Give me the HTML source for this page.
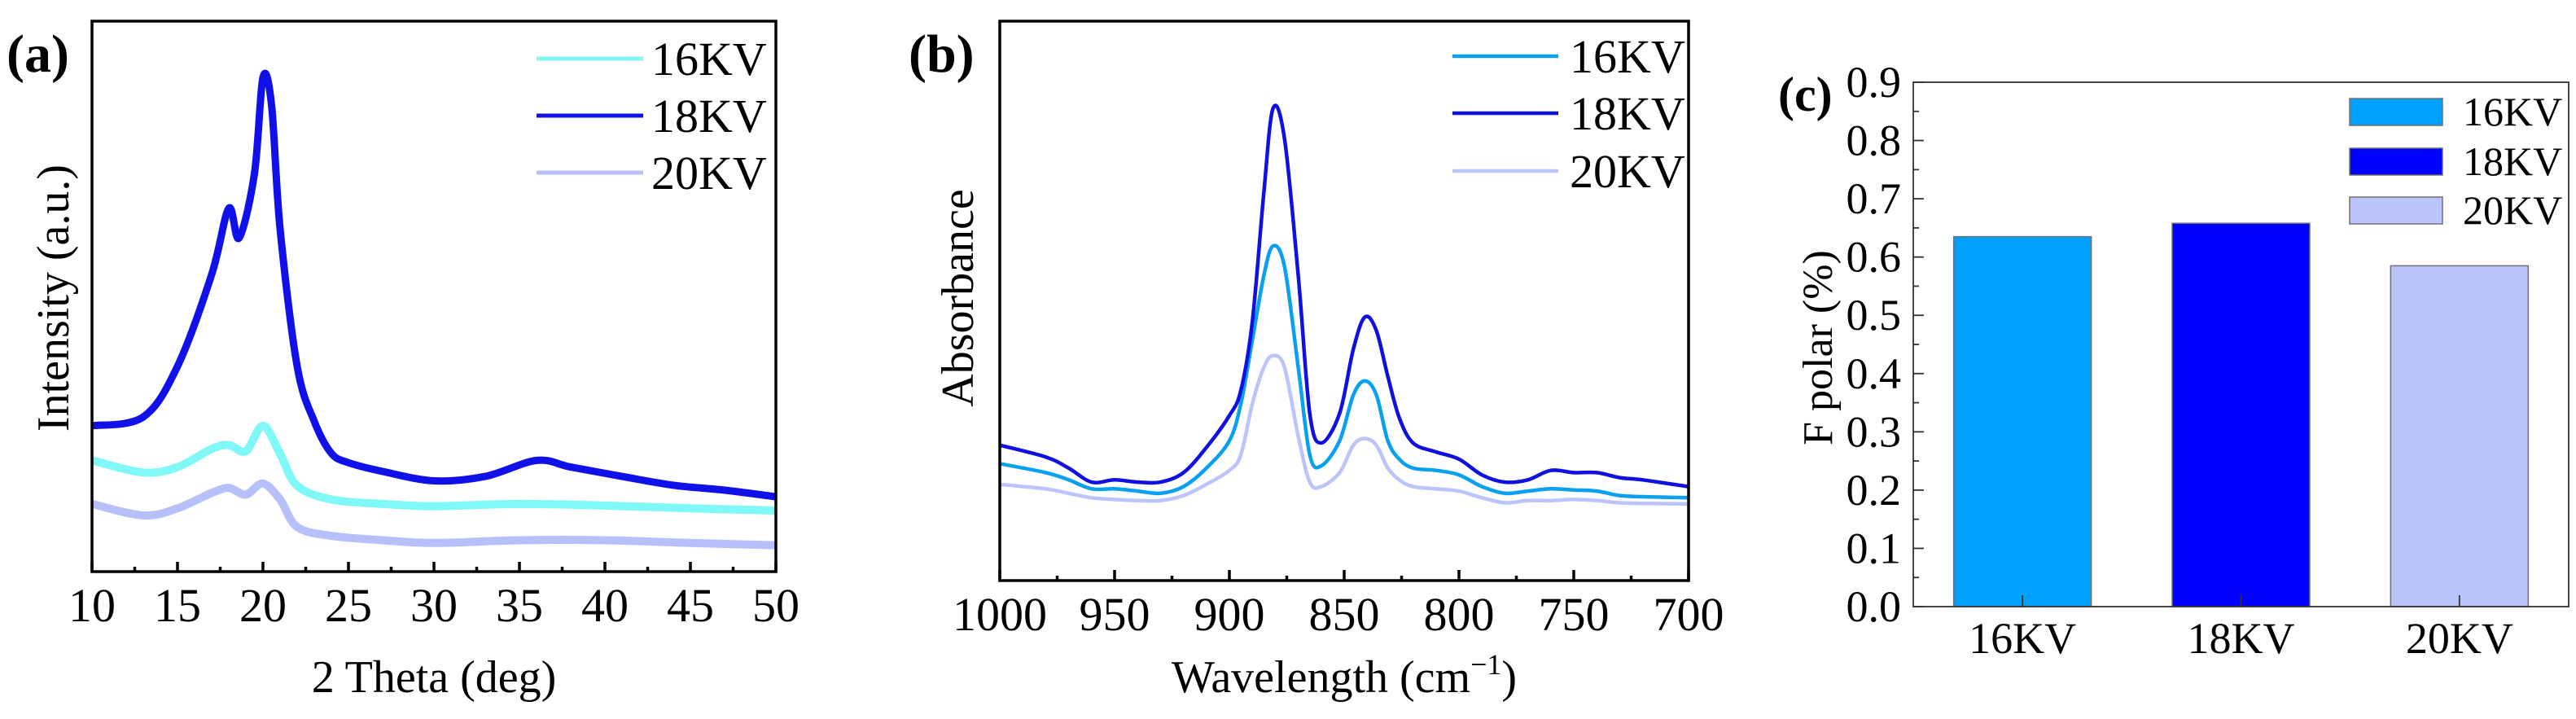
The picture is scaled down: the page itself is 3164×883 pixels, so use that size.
<!DOCTYPE html>
<html><head><meta charset="utf-8">
<style>
html,body{margin:0;padding:0;background:#fff;}
svg{display:block;}
svg text{font-family:"Liberation Serif","Times New Roman",serif;}
</style></head>
<body>
<svg id="fig" width="3164" height="883" viewBox="0 0 3164 883" xmlns="http://www.w3.org/2000/svg" font-family="Liberation Serif, serif"></svg>
<script>
// ---------- Panel (a) XRD data ----------
const xrdX = [10,13,15,17,18,18.6,19.5,20,20.5,21,22,23,24,25,27,30,33,36,38,41,44,47,50];
const xrd18 = [26.5,28.1,37.3,54,66,60.6,72.3,89.8,84.8,62.3,37.3,27.3,21.5,19.8,18.2,16.5,17.3,20.2,19,17.3,15.7,14.8,13.6];
const xrdX16 = [10,13,15,17,18,19,20,21,22,24,27,30,35,40,45,50];
const xrd16 = [20.2,18,19,22.3,23,21.9,26.5,21.4,15.6,13.1,12.3,11.9,12.3,12,11.5,11.1];
const xrd20 = [12.3,10.2,11.5,14.3,15.2,14,16,13.1,8.1,6.5,5.7,5.2,5.7,5.7,5.2,4.8];
const xrdTicks = [10,15,20,25,30,35,40,45,50];
// ---------- Panel (b) FTIR data ----------
const irX = [1000,980,970,960,950,940,930,920,910,900,895,890,885,881,876,870,865,860,852,846,841,836,831,826,820,810,800,790,780,770,760,750,740,730,720,700];
const ir18 = [24.2,22.1,20.1,17.6,18,17.6,17.6,19.3,23.8,29.5,34,46.3,69.3,84.4,79,54.5,29.9,24.6,29.9,41.4,47.1,44.7,36.5,29.1,24.6,23,21.7,18.9,17.6,18,19.7,19.3,19.3,18.4,18,16.8];
const ir16 = [20.9,19.3,18,16.4,16.4,16,15.6,16.8,20.1,25,31.6,43,54.5,59.8,56.1,38.1,22.5,20.5,25,33.2,35.7,33.2,25,21.7,20.1,19.7,18.9,16.8,15.6,16,16.4,16.2,16,15.2,15,14.8];
const ir20 = [17.2,16.4,15.6,14.8,14.5,14.3,14.3,15.2,17.2,19.7,22.5,31.6,38.1,40.2,38.1,25.8,17.6,16.8,19.3,24.2,25.4,24.2,20.1,18,16.8,16.4,16,14.8,13.9,14.3,14.3,14.5,14.3,13.9,13.8,13.7];
const irTicks = [1000,950,900,850,800,750,700];
// ---------- Panel (c) bar data ----------
const barCats = ["16KV","18KV","20KV"];
const barVals = [0.635,0.658,0.585];
const barTicks = ["0.0","0.1","0.2","0.3","0.4","0.5","0.6","0.7","0.8","0.9"];

const NS="http://www.w3.org/2000/svg";
const svg=document.getElementById('fig');
const FF='Liberation Serif, Times New Roman, serif';
function mk(tag,attrs,parent,text){const e=document.createElementNS(NS,tag);for(const k in attrs)e.setAttribute(k,attrs[k]);if(tag==='text')e.setAttribute('font-family',FF);if(text!==undefined)e.textContent=text;(parent||svg).appendChild(e);return e;}
function smooth(pts){let d='M'+pts[0][0].toFixed(1)+','+pts[0][1].toFixed(1);for(let i=0;i<pts.length-1;i++){const p0=pts[Math.max(0,i-1)],p1=pts[i],p2=pts[i+1],p3=pts[Math.min(pts.length-1,i+2)];const c1x=p1[0]+(p2[0]-p0[0])/6,c1y=p1[1]+(p2[1]-p0[1])/6,c2x=p2[0]-(p3[0]-p1[0])/6,c2y=p2[1]-(p3[1]-p1[1])/6;d+=' C'+c1x.toFixed(1)+','+c1y.toFixed(1)+' '+c2x.toFixed(1)+','+c2y.toFixed(1)+' '+p2[0].toFixed(1)+','+p2[1].toFixed(1);}return d;}

// ===== Panel A =====
const A={l:113,r:953,t:26,b:702};
const ax=v=>A.l+(v-10)/40*(A.r-A.l);
const ay=v=>A.b-v/100*(A.b-A.t);
const gA=mk('g',{});


function lineA(xs,ys,color,name,w){const p=mk('path',{d:smooth(xs.map((x,i)=>[ax(x),ay(ys[i])])),fill:'none',stroke:color,'stroke-width':w,'stroke-linejoin':'round'},gA);}
lineA(xrdX16,xrd20,'#b8c0fb','line-20kv',10);
lineA(xrdX16,xrd16,'#80f8f8','line-16kv',10);
lineA(xrdX,xrd18,'#1010e8','line-18kv',9);
const frA=mk('rect',{x:A.l,y:A.t,width:A.r-A.l,height:A.b-A.t,fill:'none',stroke:'#000','stroke-width':3.5},gA);

for(let v=10;v<=50;v+=2.5){const major=(v%5===0);const t=mk('line',{x1:ax(v),x2:ax(v),y1:A.b,y2:A.b-(major?12:6),stroke:'#000','stroke-width':3.5},gA);}
xrdTicks.forEach(v=>{const t=mk('text',{x:ax(v),y:763,'font-size':58,'text-anchor':'middle'},gA,String(v));});
let tt=mk('text',{x:533,y:850,'font-size':56,'text-anchor':'middle'},gA,'2 Theta (deg)');
tt=mk('text',{x:0,y:0,'font-size':56,'text-anchor':'middle',transform:'translate(84,366) rotate(-90)'},gA,'Intensity (a.u.)');
tt=mk('text',{x:8,y:88,'font-size':66,'font-weight':'bold'},gA,'(a)');
[['16KV','#80f8f8',72],['18KV','#1010e8',142],['20KV','#b8c0fb',212]].forEach(([n,c,y])=>{const g=mk('g',{},gA);mk('line',{x1:659,x2:790,y1:y,y2:y,stroke:c,'stroke-width':5},g);mk('text',{x:800,y:y+20,'font-size':58},g,n);});

// ===== Panel B =====
const B={l:1228,r:2074,t:26,b:713};
const bx=v=>B.l+(1000-v)/300*(B.r-B.l);
const by=v=>B.b-v/100*(B.b-B.t);
const gB=mk('g',{});


function lineB(ys,color,name){const p=mk('path',{d:smooth(irX.map((x,i)=>[bx(x),by(ys[i])])),fill:'none',stroke:color,'stroke-width':4.5,'stroke-linejoin':'round'},gB);}
lineB(ir20,'#bcc4fb','line-20kv');
lineB(ir16,'#0aa0f0','line-16kv');
lineB(ir18,'#1010e0','line-18kv');
const frB=mk('rect',{x:B.l,y:B.t,width:B.r-B.l,height:B.b-B.t,fill:'none',stroke:'#000','stroke-width':3.5},gB);

for(let v=1000;v>=700;v-=25){const major=(v%50===0);const t=mk('line',{x1:bx(v),x2:bx(v),y1:B.b,y2:B.b-(major?13:6),stroke:'#000','stroke-width':3.5},gB);}
irTicks.forEach(v=>{const t=mk('text',{x:bx(v),y:774,'font-size':58,'text-anchor':'middle'},gB,String(v));});
tt=mk('text',{x:1651,y:850,'font-size':56,'text-anchor':'middle'},gB);
tt.innerHTML='Wavelength (cm<tspan dy="-22" font-size="36">−1</tspan><tspan dy="22">)</tspan>';
tt=mk('text',{x:0,y:0,'font-size':56,'text-anchor':'middle',transform:'translate(1195,366) rotate(-90)'},gB,'Absorbance');
tt=mk('text',{x:1116,y:88,'font-size':66,'font-weight':'bold'},gB,'(b)');
[['16KV','#0aa0f0',69],['18KV','#1010e0',139],['20KV','#bcc4fb',210]].forEach(([n,c,y])=>{const g=mk('g',{},gB);mk('line',{x1:1784,x2:1914,y1:y,y2:y,stroke:c,'stroke-width':4.5},g);mk('text',{x:1928,y:y+20,'font-size':58},g,n);});

// ===== Panel C =====
const C={l:2350,r:3155,t:101,b:745};
const cy=v=>C.b-v/0.9*(C.b-C.t);
const band=(C.r-C.l)/barCats.length;
const cx=i=>C.l+band*(i+0.5);
const barColors=['#00a0ff','#0000ff','#bbc3fb'];
const gC=mk('g',{});


barVals.forEach((v,i)=>{const r=mk('rect',{x:cx(i)-84.5,y:cy(v),width:169,height:C.b-cy(v),fill:barColors[i],stroke:'#707070','stroke-width':1.5},gC);});
const frC=mk('rect',{x:C.l,y:C.t,width:C.r-C.l,height:C.b-C.t,fill:'none',stroke:'#333','stroke-width':1.8},gC);

for(let k=0;k<=18;k++){const v=k*0.05;const major=(k%2===0);const t=mk('line',{x1:C.l,x2:C.l+(major?13:7),y1:cy(v),y2:cy(v),stroke:'#333','stroke-width':1.8},gC);}
barTicks.forEach((s,k)=>{const t=mk('text',{x:2335,y:cy(k*0.1)+18,'font-size':54,'text-anchor':'end'},gC,s);});
barCats.forEach((s,i)=>{mk('line',{x1:cx(i),x2:cx(i),y1:C.b,y2:C.b-14,stroke:'#333','stroke-width':1.8},gC);const t=mk('text',{x:cx(i),y:802,'font-size':54,'text-anchor':'middle'},gC,s);});
tt=mk('text',{x:0,y:0,'font-size':52,'text-anchor':'middle',transform:'translate(2250,427) rotate(-90)'},gC,'F polar (%)');
tt=mk('text',{x:2184,y:136,'font-size':60,'font-weight':'bold'},gC,'(c)');
[['16KV',0,121],['18KV',1,182],['20KV',2,242]].forEach(([n,i,y])=>{const g=mk('g',{},gC);mk('rect',{x:2886,y:y,width:114,height:33,fill:barColors[i],stroke:'#707070','stroke-width':1.5},g);mk('text',{x:3025,y:y+33,'font-size':50},g,n);});
</script>
</body></html>
